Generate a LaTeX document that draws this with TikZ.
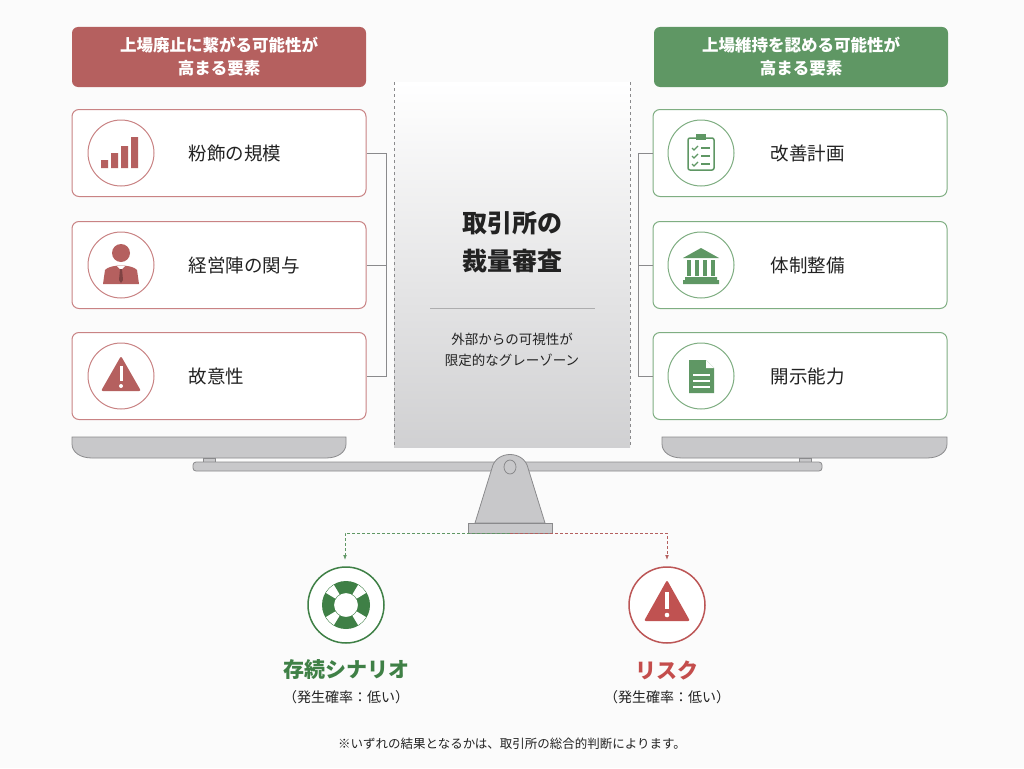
\documentclass[tikz,border=0pt]{standalone}
\usepackage{fontspec}
\setmainfont{Noto Sans CJK JP}
\usetikzlibrary{arrows.meta}
\definecolor{rd}{HTML}{B5605F}
\definecolor{rdl}{HTML}{C98384}
\definecolor{gn}{HTML}{5F9764}
\definecolor{gnd}{HTML}{3F8046}
\definecolor{gnl}{HTML}{7FAE82}
\definecolor{gry}{HTML}{C8C8CA}
\definecolor{gryd}{HTML}{8A8A8C}
\definecolor{txt}{HTML}{222222}
\tikzset{x=1pt,y=-1pt,
 hdr/.style={rounded corners=6pt,minimum width=294pt,minimum height=60pt,text=white,font=\fontsize{16.5}{23}\selectfont\bfseries,align=center},
 box/.style={draw,rounded corners=7pt,fill=white,line width=1pt,minimum width=294pt,minimum height=87pt},
 ic/.style={draw,circle,line width=1pt,minimum size=66pt,fill=white},
 lab/.style={font=\fontsize{18.5}{22}\selectfont,text=txt},
 conn/.style={draw=gryd,line width=0.8pt},
 metal/.style={fill=gry,draw=gryd,line width=0.8pt}}
\begin{document}
\begin{tikzpicture}
\useasboundingbox (0,0) rectangle (1024,768);
\fill[white!97!gray] (0,0) rectangle (1024,768);
% headers
\node[hdr,fill=rd] (lh) at (219,57) {上場廃止に繋がる可能性が\\高まる要素};
\node[hdr,fill=gn] (rh) at (801,57) {上場維持を認める可能性が\\高まる要素};
% center panel
\shade[top color=white,bottom color=gry!85] (394,82) rectangle (630,447);
\draw[gryd,dashed,line width=0.6pt] (394,82)--(394,447) (630,82)--(630,447);
\node[font=\fontsize{25}{38}\selectfont\bfseries,text=txt,align=center] (ct) at (512,242) {取引所の\\裁量審査};
\draw[gryd!70,line width=0.6pt] (430,308)--(595,308);
\node[font=\fontsize{13.5}{21}\selectfont,text=txt,align=center] (cs) at (512,350) {外部からの可視性が\\限定的なグレーゾーン};
% left boxes
\foreach \n/\y/\t in {l1/153/粉飾の規模,l2/265/経営陣の関与,l3/376/故意性}{
 \node[box,draw=rdl] (\n) at (219,\y) {};
 \node[ic,draw=rdl] (\n i) at (121,\y) {};
 \node[lab,anchor=west] at (185,\y) {\t};}
\foreach \n/\y/\t in {r1/153/改善計画,r2/265/体制整備,r3/376/開示能力}{
 \node[box,draw=gnl] (\n) at (800,\y) {};
 \node[ic,draw=gnl] (\n i) at (701,\y) {};
 \node[lab,anchor=west] at (767,\y) {\t};}
% brackets
\coordinate (lb1) at (386,153); \coordinate (lb3) at (386,376);
\draw[conn] (l1.east)--(lb1)--(lb3)--(l3.east);
\draw[conn] (l2.east)--(386,265);
\coordinate (rb1) at (638,153); \coordinate (rb3) at (638,376);
\draw[conn] (r1.west)--(rb1)--(rb3)--(r3.west);
\draw[conn] (r2.west)--(638,265);
% icons left
\fill[rd] (101,160) rectangle (108,168) (111,153) rectangle (118,168) (121,146) rectangle (128,168) (131,137) rectangle (138,168);
\fill[rd] (121,253) circle (9);
\fill[rd] (103,284) -- (105,270) .. controls (110,264) and (132,264) .. (137,270) -- (139,284) -- cycle;
\fill[white] (117,266)--(121,270)--(125,266)--cycle;
\fill[rd!70!black] (120,269)--(122,269)--(123,280)--(121,283)--(119,280)--cycle;
\fill[rd,rounded corners=2pt] (121,356)--(141,391)--(101,391)--cycle;
\fill[white] (119.5,366) rectangle (122.5,381); \fill[white] (121,386) circle (2);
% icons right
\draw[gn,line width=1.5pt,rounded corners=2pt] (688,138) rectangle (714,170);
\fill[gn] (696,134) rectangle (706,140);
\foreach \yy in {148,156,164}{\draw[gn,line width=1.2pt] (692,\yy)--(694,\yy+2)--(698,\yy-2); \draw[gn,line width=1.2pt] (701,\yy)--(710,\yy);}
\fill[gn] (683,258)--(701,248)--(719,258)--cycle;
\fill[gn] (683,280) rectangle (719,284) (685,277) rectangle (717,280);
\foreach \xx in {687,695,703,711}{\fill[gn] (\xx,260) rectangle (\xx+4,276);}
\fill[gn] (689,360)--(706,360)--(714,368)--(714,393)--(689,393)--cycle;
\fill[white] (706,360)--(706,368)--(714,368)--cycle;
\foreach \yy in {374,380,386}{\fill[white] (693,\yy) rectangle (710,\yy+2);}
% scale
\draw[metal] (72,437)--(346,437)--(346,444) .. controls (346,452) and (338,458) .. (326,458) -- (92,458) .. controls (80,458) and (72,452) .. (72,444) -- cycle;
\draw[metal] (662,437)--(947,437)--(947,444) .. controls (947,452) and (939,458) .. (927,458) -- (682,458) .. controls (670,458) and (662,452) .. (662,444) -- cycle;
\draw[metal] (203,458) rectangle (215,463) (799,458) rectangle (811,463);
\draw[metal,rounded corners=3pt] (193,462) rectangle (822,471);
\draw[metal] (475,523) -- (492,468) .. controls (496,450) and (524,450) .. (528,468) -- (545,523) -- cycle;
\draw[metal] (510,467) ellipse (6 and 7);
\draw[metal] (468,523) rectangle (552,533);
% outcomes
\coordinate (dm) at (510,533);
\draw[gn,densely dashed,line width=0.8pt,-{Latex[length=5pt]}] (dm)--(345,533)--(345,560);
\draw[rd,densely dashed,line width=0.8pt,-{Latex[length=5pt]}] (dm)--(667,533)--(667,560);
\node[ic,draw=gnd,minimum size=76pt,line width=1.5pt] (go) at (346,605) {};
\fill[gnd,even odd rule] (346,605) circle (24) (346,605) circle (12);
\foreach \a in {45,135,225,315}{\fill[white] (346,605) ++(\a-14:12.5) arc (\a-14:\a+14:12.5) -- ++(\a+14:11) arc(\a+14:\a-14:23.5) -- cycle;}
\node[ic,draw=rd!90!red,minimum size=76pt,line width=1.5pt] (ro) at (667,605) {};
\fill[rd!85!red,rounded corners=2pt] (667,580)--(690,621)--(644,621)--cycle;
\fill[white] (665,592) rectangle (669,609); \fill[white] (667,615) circle (2.3);
\node[font=\fontsize{21}{24}\selectfont\bfseries,text=gnd] (gt) at (346,670) {存続シナリオ};
\node[font=\fontsize{14}{16}\selectfont,text=txt] at (346,697) {（発生確率：低い）};
\node[font=\fontsize{21}{24}\selectfont\bfseries,text=rd!80!red] (rt) at (667,670) {リスク};
\node[font=\fontsize{14}{16}\selectfont,text=txt] at (667,697) {（発生確率：低い）};
\node[font=\fontsize{12.5}{14}\selectfont,text=txt] at (512,744) {※いずれの結果となるかは、取引所の総合的判断によります。};
\end{tikzpicture}
\end{document}
